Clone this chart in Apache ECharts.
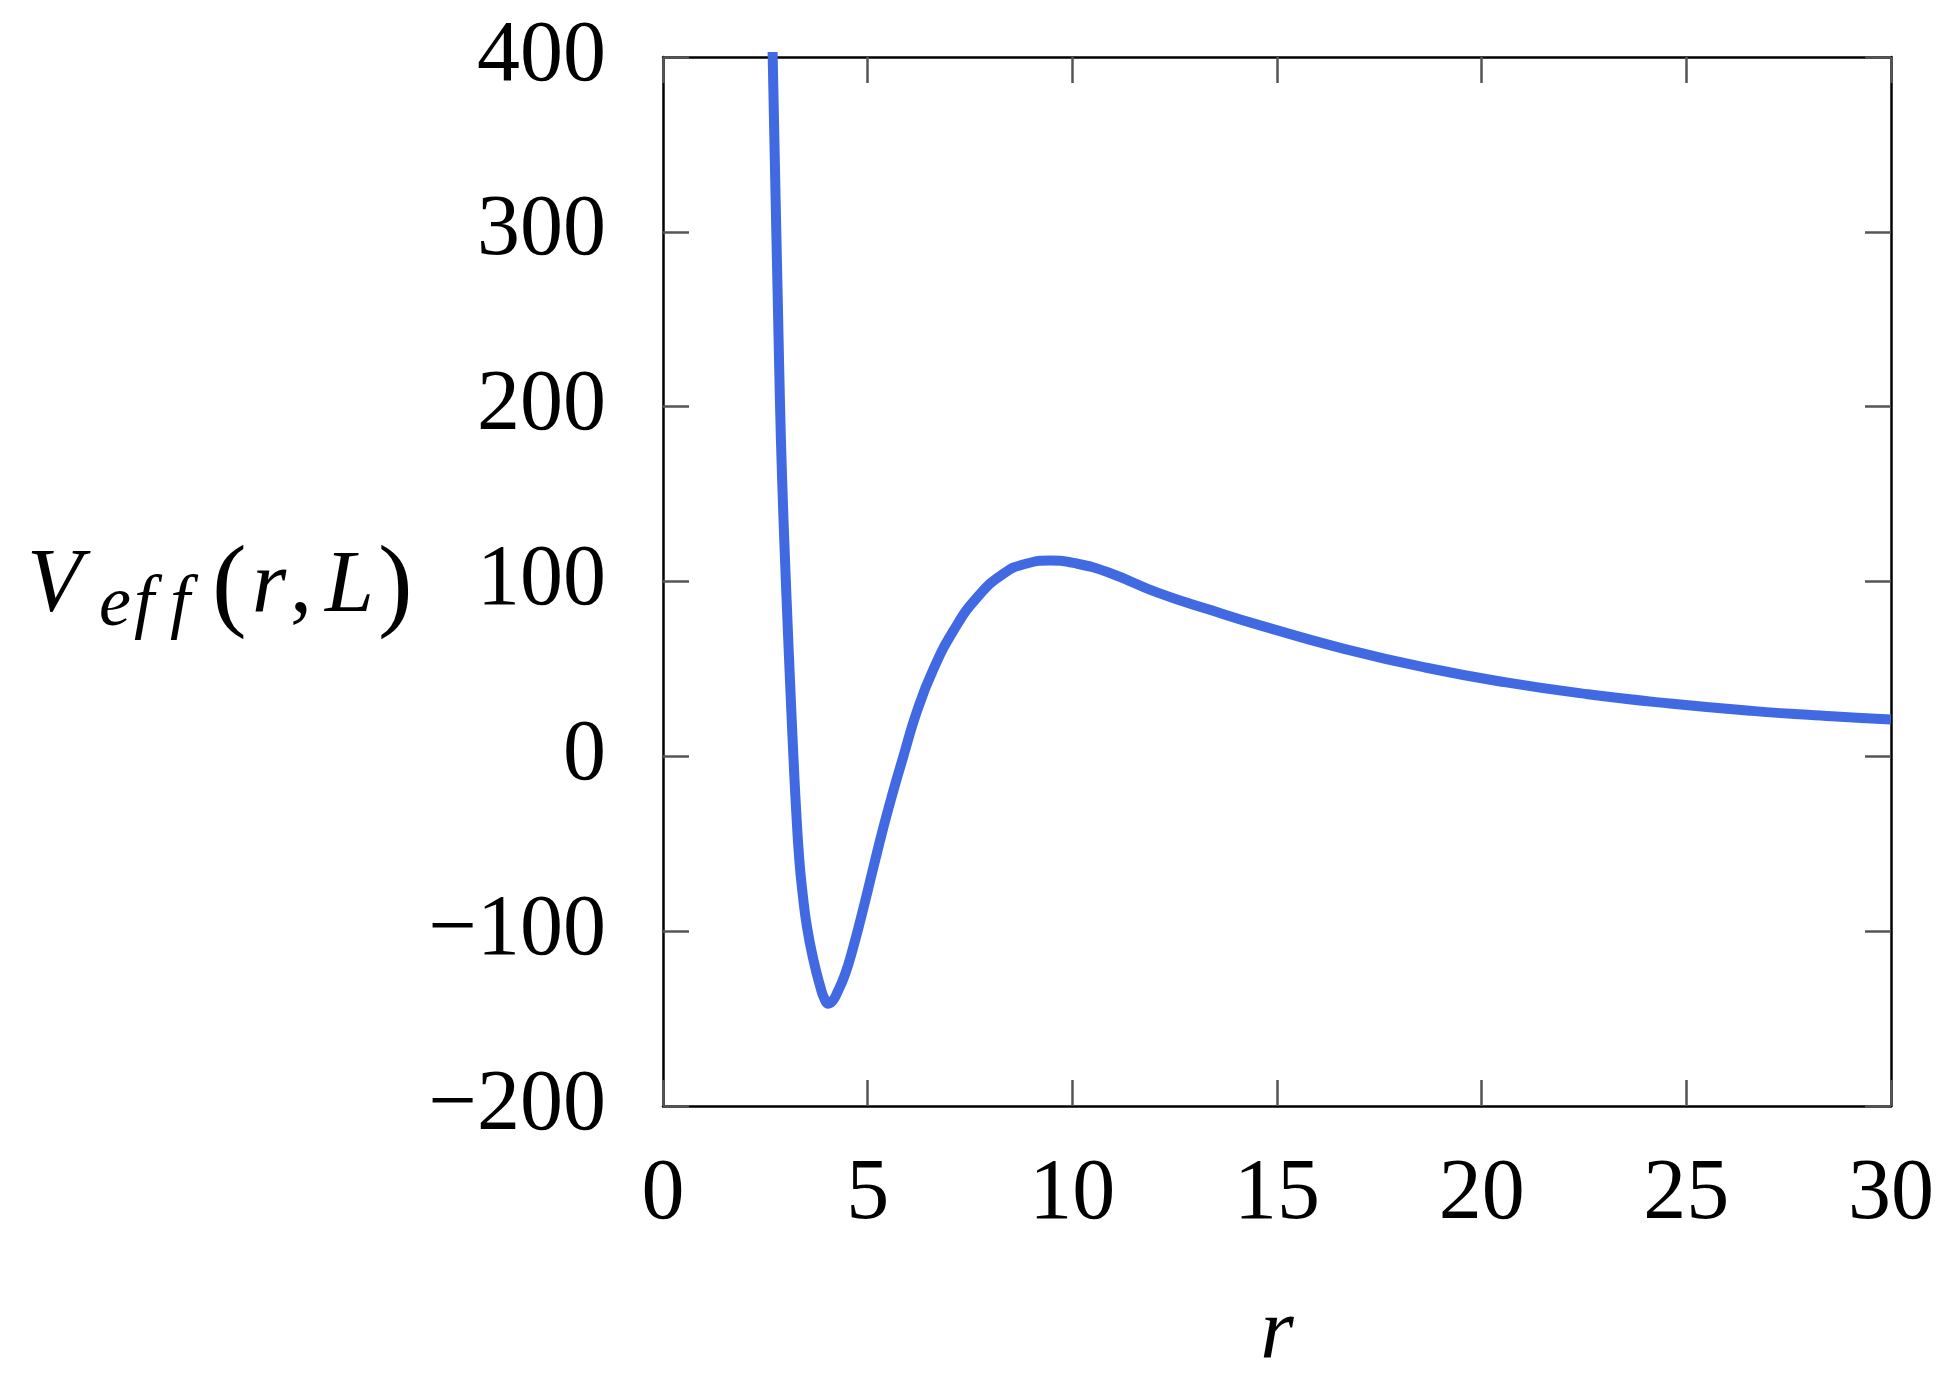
<!DOCTYPE html>
<html>
<head>
<meta charset="utf-8">
<script src="https://cdn.jsdelivr.net/npm/echarts@6/dist/echarts.min.js"></script>
<style>
    html,body{margin:0;padding:0;background:#fff;}
    #chart{width:1955px;height:1391px;}
</style>
</head>
<body>
<div id="chart"></div>
<script>
    // radius r
    var rValues = [2.62, 2.68, 2.752, 2.814, 2.856, 2.908, 2.981, 3.03, 3.081, 3.134, 3.19, 3.252, 3.33, 3.41, 3.516, 3.675, 3.842, 3.94, 4.04, 4.14, 4.24, 4.45, 4.65, 4.9, 5.14, 5.38, 5.63, 5.86, 6.2, 6.6, 7.1, 7.66, 8.32, 8.89, 9.46, 10.1, 10.9, 12.1, 13.4, 14.65, 16.64, 18.62, 20.6, 22.6, 24.6, 26.6, 28.55, 30];
    // effective potential V_eff(r, L)
    var vValues = [470, 400, 318, 250, 204, 160, 112.3, 83.7, 55.1, 26.5, -2.1, -30.6, -59.2, -78.3, -97.4, -116.4, -131.7, -138.5, -141.5, -140, -136, -124.5, -109, -86.5, -63.5, -41, -19.5, -1, 25.5, 49.5, 72, 90.5, 104.5, 110.3, 112, 110.3, 105, 93.5, 83.5, 74.5, 61.5, 50.8, 42.3, 35.5, 30.2, 26, 22.9, 21];
    var xTicks = [0, 5, 10, 15, 20, 25, 30];
    var yTicks = [-200, -100, 0, 100, 200, 300, 400];

    var serif = '"Liberation Serif", "DejaVu Serif", serif';
    var points = rValues.map(function(r, i){ return [r, vValues[i]]; });

    function fmtNum(v){
        return v < 0 ? '\u2212' + (-v) : String(v);
    }

    var chart = echarts.init(document.getElementById('chart'));
    var tickStyle = {show:true, inside:true, length:26, lineStyle:{color:'#555', width:2.5}};
    var lineStyle = {show:true, onZero:false, lineStyle:{color:'#000', width:2.5}};

    function mathText(txt, x, y, size, it){
        return {
            type:'text', x:x, y:y,
            style:{text:txt, fontFamily:serif, fontStyle:it ? 'italic' : 'normal', fontSize:size,
                   fill:'#000', verticalAlign:'bottom', align:'left'}
        };
    }

    chart.setOption({
        animation:false,
        grid:{left:663, right:64, top:57, bottom:285},
        xAxis:[{
            type:'value',
            min:xTicks[0], max:xTicks[xTicks.length-1], interval:5,
            axisLine:lineStyle,
            axisTick:tickStyle,
            splitLine:{show:false},
            axisLabel:{fontFamily:serif, fontSize:86, color:'#000', margin:46, formatter:fmtNum},
            name:'r',
            nameLocation:'middle',
            nameGap:186,
            nameTextStyle:{fontFamily:serif, fontStyle:'italic', fontSize:86, color:'#000'}
        },{
            type:'value', position:'top',
            min:xTicks[0], max:xTicks[xTicks.length-1], interval:5,
            axisLine:lineStyle, axisTick:tickStyle,
            axisLabel:{show:false}, splitLine:{show:false}
        }],
        yAxis:[{
            type:'value',
            min:yTicks[0], max:yTicks[yTicks.length-1], interval:100,
            axisLine:lineStyle,
            axisTick:tickStyle,
            splitLine:{show:false},
            axisLabel:{fontFamily:serif, fontSize:86, color:'#000', margin:57, formatter:fmtNum}
        },{
            type:'value', position:'right',
            min:yTicks[0], max:yTicks[yTicks.length-1], interval:100,
            axisLine:lineStyle, axisTick:tickStyle,
            axisLabel:{show:false}, splitLine:{show:false}
        }],
        series:[{
            type:'line',
            data:points,
            showSymbol:false,
            smooth:0.5,
            clip:true,
            lineStyle:{color:'#4169E1', width:10}
        }],
        // y-axis title V_eff(r, L)
        graphic:[
            mathText('V', 27, 632, 90, true),
            mathText('e', 99, 642, 72, true),
            mathText('f', 134, 642, 72, true),
            mathText('f', 170, 642, 72, true),
            mathText('(', 212, 642, 104, false),
            mathText('r', 252, 632, 88, true),
            mathText(',', 290, 632, 88, false),
            mathText('L', 325, 632, 88, true),
            mathText(')', 378, 642, 104, false)
        ]
    });
</script>
</body>
</html>
